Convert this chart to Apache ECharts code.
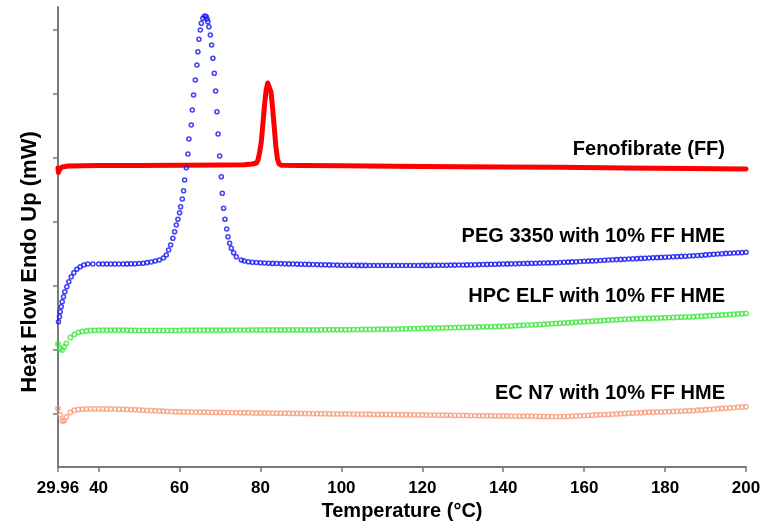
<!DOCTYPE html>
<html>
<head>
<meta charset="utf-8">
<script src="https://cdn.jsdelivr.net/npm/echarts@6/dist/echarts.min.js"></script>
<style>
html,body{margin:0;padding:0;background:#fff;}
#chart{width:766px;height:527px;}
</style>
</head>
<body>
<div id="chart"></div>
<script>
// x tick labels (°C)
const xTicks = [29.96, 40, 60, 80, 100, 120, 140, 160, 180, 200];
// y ticks (unlabelled, arbitrary heat-flow units)
const yTicks = [53.5, 117.5, 181.5, 245.5, 309.5, 373.5, 437.7];

const seriesNames = ['Fenofibrate (FF)', 'PEG 3350 with 10% FF HME', 'HPC ELF with 10% FF HME', 'EC N7 with 10% FF HME'];

// Fenofibrate (FF)
const ffT = [29.96, 30.08, 30.4, 31, 32.5, 40, 50, 60, 70, 76, 78, 79, 79.4, 79.8, 80.2, 80.6, 81, 81.4, 81.8, 82.2, 82.6, 83, 83.4, 83.8, 84.2, 84.6, 85.2, 90, 100, 120, 140, 154, 170, 186, 200];
const ffV = [299, 294.5, 298, 300, 301, 301.5, 301.5, 301.7, 302, 302.3, 303, 304, 307, 315, 325, 343, 362, 377, 384, 384, 375, 359, 340, 321, 308, 303, 301.7, 301.5, 301.2, 300.5, 300, 299.7, 299, 298.5, 298];

// PEG 3350 with 10% FF HME
const pegT = [30.08, 30.33, 30.5, 30.75, 31.0, 31.32, 31.64, 32.14, 32.63, 33.22, 33.87, 34.61, 35.45, 36.34, 37.33, 38.57,
  40, 41, 42, 43, 44, 45, 46, 47, 48, 49, 50, 51, 52, 53, 54, 55, 56,
  56.72, 57.29, 57.79, 58.35, 58.78, 59.2, 59.59, 60.01, 60.26, 60.68,
  61.0, 61.25, 61.67, 62.06, 62.31, 62.9, 63.15, 63.47, 63.89, 64.29,
  64.54, 64.79, 65.13, 65.38, 65.77, 66.2, 66.57, 66.81, 67.01, 67.26,
  67.61, 67.93, 68.25, 68.59, 68.92, 69.24, 69.53, 69.91, 70.33, 70.57,
  70.89, 71.22, 71.64, 71.96, 72.38, 72.8, 73.37, 74.04, 75.27,
  76, 77, 78, 79, 80, 81, 82, 83, 84, 85,
  86, 87, 88, 89, 90, 91, 92, 93, 94, 95,
  96, 97, 98, 99, 100, 101, 102, 103, 104, 105,
  106, 107, 108, 109, 110, 111, 112, 113, 114, 115,
  116, 117, 118, 119, 120, 121, 122, 123, 124, 125,
  126, 127, 128, 129, 130, 131, 132, 133, 134, 135,
  136, 137, 138, 139, 140, 141, 142, 143, 144, 145,
  146, 147, 148, 149, 150, 151, 152, 153, 154, 155,
  156, 157, 158, 159, 160, 161, 162, 163, 164, 165,
  166, 167, 168, 169, 170, 171, 172, 173, 174, 175,
  176, 177, 178, 179, 180, 181, 182, 183, 184, 185,
  186, 187, 188, 189, 190, 191, 192, 193, 194, 195,
  196, 197, 198, 199, 200];
const pegV = [145.3, 150.3, 155.3, 160.3, 165.3, 170.3, 175.3, 180.3, 185.3, 190.3, 194.3, 197.7, 200.3, 202, 203, 203,
  203, 203, 203, 203, 203, 203, 203, 203.1, 203.2, 203.3, 203.5, 203.8, 204.4, 205, 206, 207, 209,
  212, 217, 222, 228.7, 235.3, 242, 247.7, 254.3, 260.3, 268,
  276.3, 287, 299.3, 313, 328, 342, 357, 372, 387, 402,
  415.3, 427.7, 437, 443.7, 448.7, 451, 450.5, 448, 445.3, 440.3,
  432, 422, 408.7, 393.7, 376, 355.3, 333, 311, 290.3, 273.7,
  258.7, 247.7, 238, 230.3, 223.7, 218.7, 214.3, 210.3, 207,
  206, 205.3, 204.8, 204.5, 204.2, 204.0, 203.8, 203.6, 203.5, 203.4,
  203.2, 203.1, 203.0, 202.9, 202.8, 202.7, 202.6, 202.5, 202.4, 202.3,
  202.2, 202.1, 202.0, 201.9, 201.8, 201.8, 201.7, 201.7, 201.6, 201.6,
  201.6, 201.5, 201.5, 201.5, 201.5, 201.5, 201.5, 201.5, 201.5, 201.5,
  201.5, 201.5, 201.5, 201.5, 201.6, 201.6, 201.6, 201.7, 201.7, 201.8,
  201.8, 201.9, 201.9, 202.0, 202.0, 202.1, 202.2, 202.3, 202.4, 202.5,
  202.6, 202.7, 202.8, 202.9, 203.0, 203.1, 203.2, 203.3, 203.4, 203.5,
  203.6, 203.7, 203.8, 203.9, 204.0, 204.1, 204.2, 204.3, 204.5, 204.7,
  204.9, 205.1, 205.3, 205.5, 205.7, 205.9, 206.1, 206.3, 206.5, 206.8,
  207.0, 207.2, 207.4, 207.6, 207.8, 208.0, 208.2, 208.4, 208.6, 208.8,
  209.0, 209.2, 209.4, 209.6, 209.8, 210.0, 210.2, 210.4, 210.6, 210.8,
  211.0, 211.2, 211.5, 211.8, 212.1, 212.4, 212.7, 213.0, 213.3, 213.6,
  213.8, 214.0, 214.2, 214.4, 214.7];

// sampling temperatures shared by HPC ELF and EC N7 curves
const tGrid = [29.96, 30.5, 31, 31.5, 32, 33, 34, 35, 36, 37, 38, 39, 40,
  41, 42, 43, 44, 45, 46, 47, 48, 49, 50,
  51, 52, 53, 54, 55, 56, 57, 58, 59, 60,
  61, 62, 63, 64, 65, 66, 67, 68, 69, 70,
  71, 72, 73, 74, 75, 76, 77, 78, 79, 80,
  81, 82, 83, 84, 85, 86, 87, 88, 89, 90,
  91, 92, 93, 94, 95, 96, 97, 98, 99, 100,
  101, 102, 103, 104, 105, 106, 107, 108, 109, 110,
  111, 112, 113, 114, 115, 116, 117, 118, 119, 120,
  121, 122, 123, 124, 125, 126, 127, 128, 129, 130,
  131, 132, 133, 134, 135, 136, 137, 138, 139, 140,
  141, 142, 143, 144, 145, 146, 147, 148, 149, 150,
  151, 152, 153, 154, 155, 156, 157, 158, 159, 160,
  161, 162, 163, 164, 165, 166, 167, 168, 169, 170,
  171, 172, 173, 174, 175, 176, 177, 178, 179, 180,
  181, 182, 183, 184, 185, 186, 187, 188, 189, 190,
  191, 192, 193, 194, 195, 196, 197, 198, 199, 200];

// HPC ELF with 10% FF HME
const hpcV = [123, 118.5, 117, 120, 123.5, 129.5, 132.5, 134.5, 135.5, 136, 136.5, 136.6, 136.7,
  136.7, 136.8, 136.8, 136.8, 136.8, 136.7, 136.7, 136.7, 136.6, 136.6,
  136.6, 136.6, 136.6, 136.6, 136.6, 136.6, 136.6, 136.6, 136.6, 136.6,
  136.7, 136.7, 136.7, 136.8, 136.8, 136.8, 136.8, 136.8, 136.8, 136.8,
  136.8, 136.8, 136.9, 136.9, 136.9, 136.9, 136.9, 137.0, 137.0, 137.0,
  137.0, 137.0, 137.0, 137.0, 137.0, 137.0, 137.1, 137.1, 137.1, 137.1,
  137.1, 137.1, 137.1, 137.1, 137.1, 137.2, 137.2, 137.2, 137.2, 137.2,
  137.3, 137.3, 137.4, 137.4, 137.5, 137.5, 137.6, 137.6, 137.7, 137.7,
  137.8, 137.8, 137.9, 138.0, 138.1, 138.2, 138.3, 138.4, 138.5, 138.6,
  138.7, 138.8, 138.9, 139.0, 139.1, 139.2, 139.3, 139.4, 139.5, 139.6,
  139.7, 139.8, 139.9, 140.0, 140.1, 140.2, 140.3, 140.4, 140.5, 140.7,
  140.9, 141.1, 141.3, 141.5, 141.7, 141.9, 142.1, 142.3, 142.6, 142.8,
  143.0, 143.3, 143.5, 143.7, 144.0, 144.2, 144.5, 144.7, 145.0, 145.2,
  145.5, 145.7, 146.0, 146.2, 146.5, 146.7, 147.0, 147.2, 147.5, 147.7,
  147.9, 148.0, 148.2, 148.3, 148.5, 148.6, 148.8, 148.9, 149.1, 149.2,
  149.4, 149.5, 149.7, 149.8, 150.0, 150.1, 150.3, 150.5, 150.8, 151.0,
  151.3, 151.5, 151.8, 152.0, 152.3, 152.5, 152.8, 153.0, 153.3, 153.6];

// EC N7 with 10% FF HME
const ecV = [58.5, 52, 46, 46.5, 50, 54.5, 56.7, 57.5, 57.8, 58.0, 58.1, 58.1, 58.1,
  58.1, 58.0, 58.0, 57.9, 57.8, 57.7, 57.5, 57.4, 57.2, 57.0,
  56.8, 56.6, 56.4, 56.2, 56.0, 55.8, 55.6, 55.4, 55.3, 55.2,
  55.1, 55.0, 54.9, 54.9, 54.8, 54.8, 54.7, 54.6, 54.6, 54.5,
  54.5, 54.4, 54.4, 54.3, 54.3, 54.2, 54.2, 54.1, 54.1, 54.0,
  54.0, 53.9, 53.9, 53.8, 53.8, 53.7, 53.7, 53.6, 53.6, 53.5,
  53.5, 53.4, 53.4, 53.3, 53.3, 53.2, 53.2, 53.1, 53.1, 53.0,
  53.0, 52.9, 52.9, 52.8, 52.8, 52.7, 52.7, 52.6, 52.6, 52.5,
  52.5, 52.4, 52.4, 52.3, 52.3, 52.2, 52.2, 52.1, 52.1, 52.0,
  52.0, 51.9, 51.9, 51.8, 51.8, 51.7, 51.7, 51.6, 51.6, 51.5,
  51.5, 51.4, 51.4, 51.3, 51.3, 51.2, 51.2, 51.1, 51.1, 51.0,
  51.0, 50.9, 50.9, 50.8, 50.8, 50.7, 50.7, 50.6, 50.6, 50.5,
  50.5, 50.4, 50.4, 50.4, 50.5, 50.6, 50.8, 51.0, 51.2, 51.4,
  51.6, 51.8, 52.0, 52.2, 52.4, 52.6, 52.8, 53.0, 53.2, 53.5,
  53.7, 53.9, 54.1, 54.3, 54.5, 54.7, 54.8, 55.0, 55.1, 55.2,
  55.4, 55.5, 55.7, 55.9, 56.0, 56.2, 56.4, 56.7, 57.0, 57.3,
  57.6, 57.9, 58.2, 58.5, 58.8, 59.1, 59.4, 59.7, 60.0, 60.3];

const zip = (xs, ys) => xs.map((x, i) => [x, ys[i]]);
const FONT = "'Liberation Sans', Arial, sans-serif";

const chart = echarts.init(document.getElementById('chart'), null, {renderer: 'canvas'});

const ringStyle = (c, bw) => ({color: 'rgba(255,255,255,0)', borderColor: c, borderWidth: bw});

const labelText = (txt, y) => ({
  type: 'text', right: 41, top: y - 11,
  style: {text: txt, fill: '#000', fontFamily: FONT, fontWeight: 'bold', fontSize: 20}
});

chart.setOption({
  animation: false,
  backgroundColor: '#fff',
  grid: {left: 58, right: 20, top: 7, bottom: 60, containLabel: false},
  xAxis: {
    type: 'value', min: 29.96, max: 200,
    name: 'Temperature (°C)', nameLocation: 'middle', nameGap: 33,
    nameTextStyle: {fontFamily: FONT, fontWeight: 'bold', fontSize: 20, color: '#000'},
    axisLine: {show: true, lineStyle: {color: '#7a7a7a', width: 2}},
    axisTick: {show: true, customValues: xTicks, length: 5, lineStyle: {color: '#7a7a7a', width: 1.5}},
    axisLabel: {customValues: xTicks, fontFamily: FONT, fontWeight: 'bold', fontSize: 17, color: '#000', margin: 13,
      formatter: v => String(v)},
    splitLine: {show: false}
  },
  yAxis: {
    type: 'value', min: 0, max: 460,
    axisLine: {show: true, lineStyle: {color: '#7a7a7a', width: 2}},
    axisTick: {show: true, customValues: yTicks, length: 5, lineStyle: {color: '#7a7a7a', width: 1.5}},
    axisLabel: {show: false, customValues: yTicks},
    splitLine: {show: false}
  },
  graphic: [
    {type: 'text', x: 30, y: 262, rotation: Math.PI / 2,
      style: {text: 'Heat Flow Endo Up (mW)', fill: '#000', fontFamily: FONT, fontWeight: 'bold', fontSize: 22,
        align: 'center', verticalAlign: 'middle'}},
    labelText(seriesNames[0], 150),
    labelText(seriesNames[1], 237),
    labelText(seriesNames[2], 297.5),
    labelText(seriesNames[3], 394)
  ],
  series: [
    {name: seriesNames[0], type: 'line', data: zip(ffT, ffV), showSymbol: false, symbol: 'none',
      lineStyle: {color: '#ff0000', width: 5, cap: 'round', join: 'round'}, z: 2},
    {name: seriesNames[1], type: 'scatter', data: zip(pegT, pegV), symbol: 'circle', symbolSize: 4,
      itemStyle: ringStyle('#1414f5', 1.6), z: 3},
    {name: seriesNames[2], type: 'scatter', data: zip(tGrid, hpcV), symbol: 'circle', symbolSize: 4.4,
      itemStyle: ringStyle('#3ee83e', 1.5), z: 3},
    {name: seriesNames[3], type: 'scatter', data: zip(tGrid, ecV), symbol: 'circle', symbolSize: 4.4,
      itemStyle: ringStyle('#f59f7a', 1.5), z: 3}
  ]
});
</script>
</body>
</html>
